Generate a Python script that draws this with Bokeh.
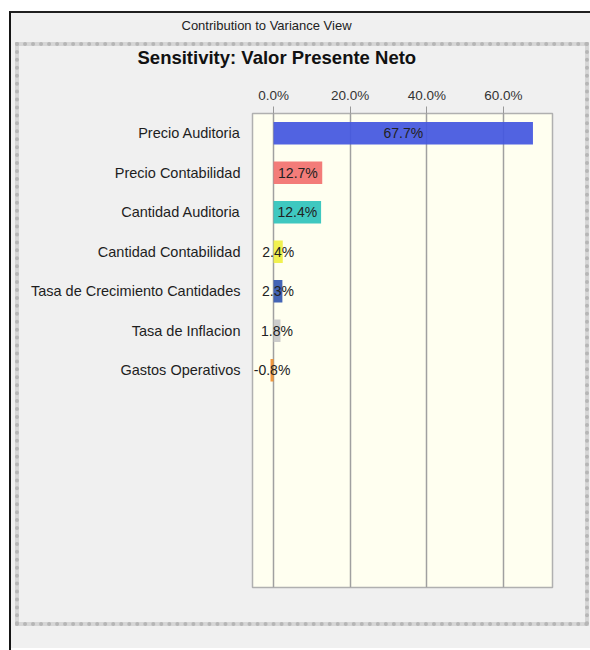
from bokeh.plotting import figure
from bokeh.models import Range1d, FixedTicker, ColumnDataSource, Title, Div
from bokeh.layouts import column
from bokeh.core.properties import value
from bokeh.embed import file_html
from bokeh.resources import INLINE

# ---- data ----
categories = ["Precio Auditoria", "Precio Contabilidad", "Cantidad Auditoria",
              "Cantidad Contabilidad", "Tasa de Crecimiento Cantidades",
              "Tasa de Inflacion", "Gastos Operativos"]
contributions = [67.7, 12.7, 12.4, 2.4, 2.3, 1.8, -0.8]
bar_colors = ["#4457e0", "#f27270", "#30c4bc", "#f0f044", "#3558b0", "#c8c8c8", "#f09030"]
x_ticks = [0, 20, 40, 60]
x_tick_labels = ["0.0%", "20.0%", "40.0%", "60.0%"]
header_text = "Contribution to Variance View"
title_text = "Sensitivity: Valor Presente Neto"

FONT = "Liberation Sans"

ys = list(range(len(categories)))
src = ColumnDataSource(dict(
    y=ys,
    val=contributions,
    mid=[v / 2 for v in contributions],
    color=bar_colors,
    label=[f"{v:.1f}%" for v in contributions],
))

p = figure(width=590, height=648, output_backend="svg", toolbar_location=None,
           x_axis_location="above",
           x_range=Range1d(-5.5, 72.8), y_range=Range1d(11.5, -0.5),
           min_border_left=252, min_border_right=38,
           min_border_top=113, min_border_bottom=61)

p.border_fill_color = "#f0f0f0"
p.background_fill_color = "#fffff0"
p.outline_line_color = "#b0b0b0"
p.outline_line_width = 1.5

p.hbar(y="y", left=0, right="val", height=0.57, fill_color="color", fill_alpha=0.93,
       line_color=None, source=src)
p.text(x="mid", y="y", text="label", source=src, text_align="center",
       text_baseline="middle", text_font=value(FONT), text_font_size="14px",
       text_color="#222222")

# x axis (top)
p.xaxis.ticker = FixedTicker(ticks=x_ticks)
p.xaxis.major_label_overrides = {t: l for t, l in zip(x_ticks, x_tick_labels)}
p.xaxis.axis_line_color = None
p.xaxis.major_tick_in = 0
p.xaxis.major_tick_out = 7
p.xaxis.major_tick_line_color = "#999999"
p.xaxis.minor_tick_line_color = None
p.xaxis.major_label_standoff = 4
p.xaxis.major_label_text_font = FONT
p.xaxis.major_label_text_font_size = "13.5px"
p.xaxis.major_label_text_color = "#333333"

# y axis (categories)
p.yaxis.ticker = FixedTicker(ticks=ys)
p.yaxis.major_label_overrides = {i: c for i, c in zip(ys, categories)}
p.yaxis.axis_line_color = None
p.yaxis.major_tick_line_color = None
p.yaxis.minor_tick_line_color = None
p.yaxis.major_tick_in = 0
p.yaxis.major_tick_out = 0
p.yaxis.major_label_standoff = 12
p.yaxis.major_label_text_font = FONT
p.yaxis.major_label_text_font_size = "14.5px"
p.yaxis.major_label_text_color = "#1e1e1e"

p.xgrid.grid_line_color = "#a0a0a0"
p.xgrid.grid_line_width = 1.5
p.ygrid.visible = False

# titles (stacked outward from the top axis)
p.add_layout(Title(text=title_text, align="left", offset=-115, standoff=34,
                   text_font=FONT, text_font_size="18.5px", text_font_style="bold",
                   text_color="#111111"), "above")
p.add_layout(Title(text=header_text, align="left", offset=-71, standoff=-10,
                   text_font=FONT, text_font_size="13px", text_font_style="normal",
                   text_color="#222222"), "above")

# window frame and dotted panel drawn as fixed-position decorations
frame_html = (
    '<div style="position:fixed;left:0;top:0;width:100vw;height:11px;background:#ffffff;pointer-events:none"></div>'
    '<div style="position:fixed;left:0;top:0;width:9px;height:100vh;background:#ffffff;pointer-events:none"></div>'
    '<div style="position:fixed;left:9px;top:11px;width:2000px;height:2000px;box-sizing:border-box;'
    'border-left:2px solid #151515;border-top:2px solid #202020;pointer-events:none"></div>'
    '<div style="position:fixed;left:15px;top:42px;width:574px;height:584px;box-sizing:border-box;'
    'border:4px solid #d6d6d6;pointer-events:none"></div>'
    '<div style="position:fixed;left:15px;top:42px;width:574px;height:584px;box-sizing:border-box;'
    'border:4px dotted #b6b6b6;pointer-events:none"></div>'
)
deco = Div(text=frame_html, width=1, height=1)

layout = column(p, deco)
open("out.html", "w").write(file_html(layout, INLINE))
